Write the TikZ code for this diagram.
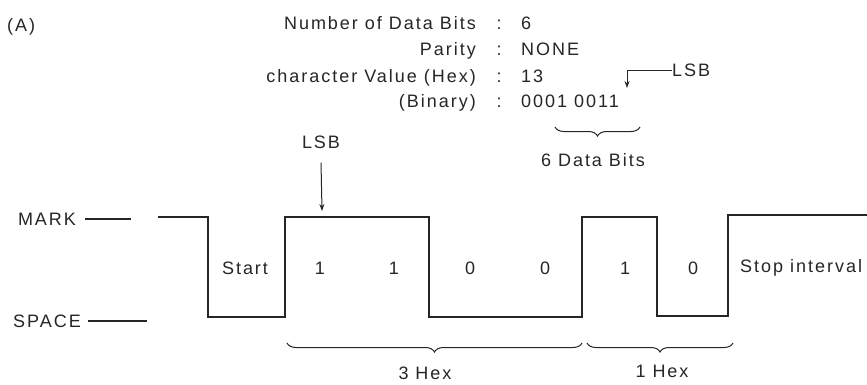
\documentclass[tikz,border=0pt]{standalone}
\usepackage{fontspec}
\setmainfont{Liberation Sans}[LetterSpace=11]
\usetikzlibrary{decorations.pathreplacing,arrows.meta}
\definecolor{ink}{HTML}{262626}
\begin{document}
\begin{tikzpicture}[x=1pt,y=-1pt,
  wave/.style={line width=1.15pt, draw=ink, line join=miter},
  lbl/.style={font=\fontsize{18}{21}\selectfont, text=ink, inner sep=0pt},
  brc/.style={decorate, decoration={brace, amplitude=9pt, mirror}, line width=1pt, draw=ink},
  arr/.style={line width=1pt, draw=ink, -{Stealth[length=7pt,width=5pt]}}]
\useasboundingbox[fill=white] (0,0) rectangle (867,384);

% heading
\node[lbl, anchor=base west] (A) at (7,31) {(A)};
\node[lbl, anchor=base east] (l1) at (476,29) {Number of Data Bits};
\node[lbl, anchor=base]      (c1) at (499,29) {:};
\node[lbl, anchor=base west] (v1) at (521,29) {6};
\node[lbl, anchor=base east] (l2) at (476,55) {Parity};
\node[lbl, anchor=base]      (c2) at (499,55) {:};
\node[lbl, anchor=base west] (v2) at (521,55) {NONE};
\node[lbl, anchor=base east] (l3) at (476,82) {character Value (Hex)};
\node[lbl, anchor=base]      (c3) at (499,82) {:};
\node[lbl, anchor=base west] (v3) at (521,82) {13};
\node[lbl, anchor=base east] (l4) at (476,107) {(Binary)};
\node[lbl, anchor=base]      (c4) at (499,107) {:};
\node[lbl, anchor=base west] (v4) at (521,107) {0001 0011};

% LSB pointer on binary value
\node[lbl, anchor=west] (lsbA) at (672,70) {LSB};
\coordinate (bitA) at (627,88);
\draw[arr] (lsbA.west) -| (bitA);

% 6 data bits brace
\coordinate (b6l) at (555,127);
\coordinate (b6r) at (640,127);
\draw[brc] (b6l) -- (b6r);
\node[lbl] (six) at (593,160) {6 Data Bits};

% LSB pointer on waveform
\node[lbl] (lsbB) at (321,142) {LSB};
\coordinate (bitB) at (322,211);
\draw[arr] ([yshift=-14pt]lsbB.south) -- (bitB);

% levels
\node[lbl] (mark) at (47,219) {MARK};
\node[lbl] (space) at (47,321) {SPACE};
\draw[wave] ([xshift=9pt]mark.east) -- ++(46,0);
\draw[wave] ([xshift=7pt]space.east) -- ++(59,0);

% waveform
\draw[wave] (158,217) -- (208,217) -- (208,317) -- (285,317) -- (285,217)
  -- (429,217) -- (429,317) -- (582,317) -- (582,217) -- (657,217)
  -- (657,316) -- (728,316) -- (728,215) -- (867,215);

% bit labels
\node[lbl] (start) at (245,268) {Start};
\node[lbl] (d1) at (320,268) {1};
\node[lbl] (d2) at (394,268) {1};
\node[lbl] (d3) at (470,268) {0};
\node[lbl] (d4) at (545,268) {0};
\node[lbl] (d5) at (625,268) {1};
\node[lbl] (d6) at (693,268) {0};
\node[lbl, anchor=west] (stop) at (740,268) {Stop interval};

% bottom braces
\coordinate (h3l) at (287,343);
\coordinate (h3r) at (582,343);
\draw[brc] (h3l) -- (h3r);
\node[lbl] (hex3) at (425,373) {3 Hex};
\coordinate (h1l) at (587,343);
\coordinate (h1r) at (733,343);
\draw[brc] (h1l) -- (h1r);
\node[lbl] (hex1) at (662,371) {1 Hex};
\end{tikzpicture}
\end{document}
